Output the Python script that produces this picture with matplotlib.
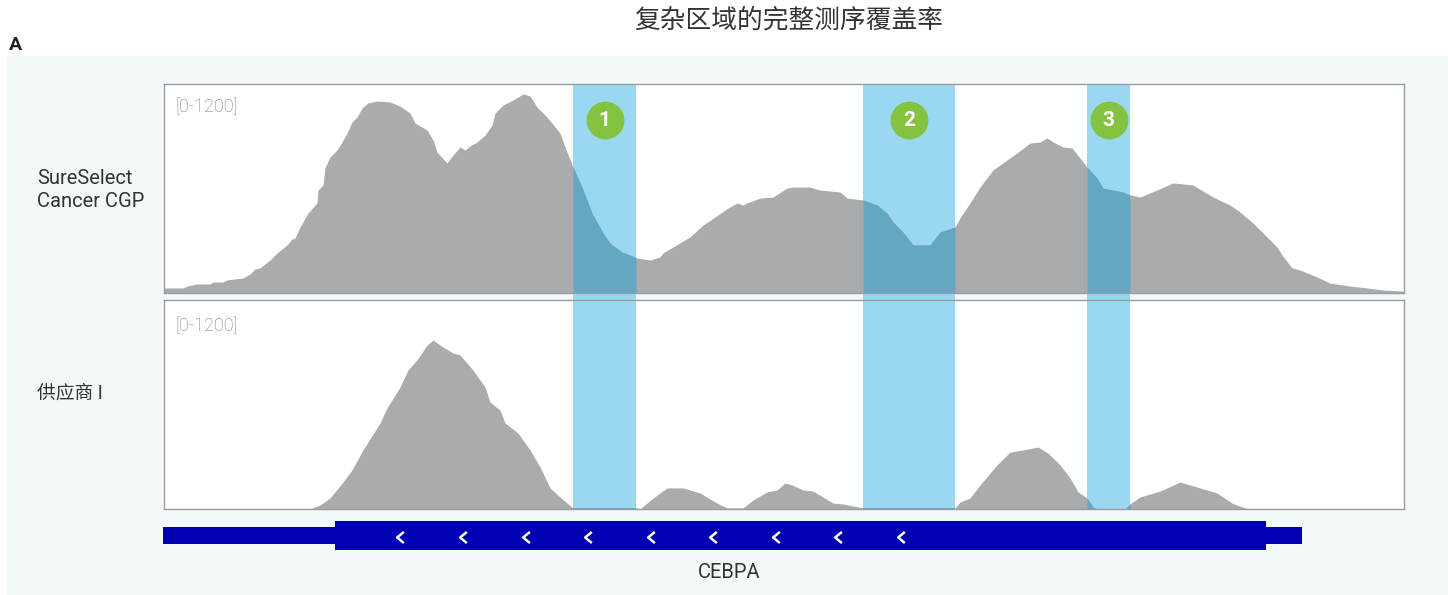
import numpy as np
import matplotlib
matplotlib.use("Agg")
import matplotlib.pyplot as plt
from matplotlib.patches import Rectangle
from matplotlib.path import Path
import matplotlib.transforms as mtransforms

plt.rcParams['font.family'] = ['Roboto', 'Noto Sans CJK SC', 'DejaVu Sans']

# ---- data -------------------------------------------------------------
title = "复杂区域的完整测序覆盖率"
panel_letter = "A"
track_names = ["SureSelect\nCancer CGP", "供应商 I"]
track_range = "[0-1200]"
y_max = 1200
gene_name = "CEBPA"

# window coordinates (bp offset across the displayed locus)
window = (0, 1240)

sureselect_pos = [0, 19, 23, 33, 46, 49, 59, 63, 79, 86, 91, 96, 106, 113, 123, 128,
                  131, 136, 144, 153, 154, 159, 161, 166, 173, 178, 183, 188, 193, 198,
                  204, 213, 226, 236, 246, 251, 263, 269, 273, 283, 289, 296, 301, 306,
                  313, 321, 328, 331, 339, 349, 359, 366, 373, 383, 396, 401, 409, 418,
                  428, 439, 446, 458, 466, 473, 486, 496, 499, 509, 526, 539, 551, 564,
                  573, 579, 583, 596, 609, 623, 629, 646, 656, 676, 683, 699, 713, 723,
                  729, 739, 749, 759, 766, 776, 791, 796, 806, 816, 829, 843, 853, 866,
                  876, 883, 891, 899, 908, 916, 923, 933, 939, 949, 959, 966, 976, 993,
                  1009, 1029, 1049, 1066, 1076, 1089, 1103, 1113, 1118, 1128, 1136, 1153,
                  1166, 1186, 1203, 1219, 1239, 1240]
sureselect_cov = [29, 29, 40, 52, 52, 63, 63, 75, 86, 109, 138, 144, 189, 230, 276, 310,
                  316, 379, 459, 517, 591, 620, 718, 781, 821, 867, 918, 982, 1010, 1062,
                  1091, 1102, 1097, 1073, 1033, 976, 936, 878, 809, 746, 792, 838, 821, 844,
                  867, 907, 964, 1033, 1079, 1108, 1143, 1131, 1068, 1010, 918, 838, 723, 608,
                  459, 344, 287, 235, 218, 201, 189, 207, 230, 264, 322, 390, 436, 488,
                  517, 505, 517, 545, 551, 603, 608, 608, 591, 580, 545, 534, 505, 459,
                  408, 350, 276, 276, 276, 350, 379, 431, 517, 608, 706, 764, 804, 861,
                  867, 890, 861, 838, 833, 775, 723, 660, 603, 591, 580, 563, 551, 591,
                  632, 620, 551, 505, 465, 402, 322, 264, 218, 144, 132, 92,
                  57, 40, 29, 17, 11, 11]

vendor_pos = [0, 146, 156, 166, 179, 188, 199, 216, 223, 236, 244, 253, 263, 269, 279,
              289, 296, 309, 321, 326, 336, 341, 354, 366, 376, 386, 396, 403, 409, 473,
              476, 489, 503, 519, 536, 553, 563, 579, 589, 603, 613, 621, 628, 639, 649,
              669, 679, 699, 791, 796, 806, 816, 833, 846, 859, 874, 884, 896, 906, 914,
              923, 929, 933, 961, 966, 976, 996, 1016, 1036, 1053, 1068, 1081, 1090, 1240]
vendor_cov = [0, 0, 23, 63, 155, 224, 339, 494, 580, 700, 798, 856, 941, 970, 930,
              896, 884, 798, 700, 614, 568, 494, 436, 339, 241, 121, 69, 34, 6, 6,
              0, 63, 121, 121, 92, 34, 6, 6, 52, 98, 109, 149, 138, 109, 103,
              34, 29, 6, 6, 40, 63, 138, 253, 327, 339, 356, 321, 253, 178, 98,
              63, 11, 0, 0, 29, 69, 103, 155, 121, 92, 34, 6, 0, 0]

# highlighted difficult regions (start, end) and their labels
region_starts = [409, 699, 923]
region_ends = [472, 791, 966]
region_labels = ["1", "2", "3"]

# gene model: UTR extent, coding extent and strand arrows
gene_utr = (-1, 1138)
gene_cds = (171, 1102)
strand_arrows = [236, 299, 362, 424, 487, 549, 612, 674, 737]

# ---- style ------------------------------------------------------------
W, H = 1448, 595
BG = "#f3f8fb"
GRAY = "#aaabad"
BAND = "#9ad8f2"
OVERLAP = "#64a7c2"
GREEN = "#84c341"
GENE = "#0000b2"
FRAME = "#9c9c9c"


def fig_box(x0, y0, x1, y1):
    """Pixel box (top-left origin) -> figure fraction [l, b, w, h]."""
    return [x0 / W, 1 - y1 / H, (x1 - x0) / W, (y1 - y0) / H]


fig = plt.figure(figsize=(W / 100, H / 100), dpi=100)
fig.patch.set_facecolor("white")

# light panel background and white track areas
bx = fig_box(7, 56, 1448, 595)
fig.add_artist(Rectangle((bx[0], bx[1]), bx[2], bx[3], transform=fig.transFigure,
                         facecolor=BG, edgecolor="none", zorder=0.1))
for (y0, y1) in [(84, 293), (300, 509)]:
    b = fig_box(164, y0, 1404, y1)
    fig.add_artist(Rectangle((b[0], b[1]), b[2], b[3], transform=fig.transFigure,
                             facecolor="white", edgecolor="none", zorder=0.2))

# highlight bands spanning both tracks
ax_bands = fig.add_axes(fig_box(164, 84, 1404, 510))
ax_bands.set_zorder(1)
ax_bands.patch.set_visible(False)
ax_bands.set_xlim(*window)
ax_bands.set_ylim(0, 1)
ax_bands.axis("off")
for s, e in zip(region_starts, region_ends):
    ax_bands.axvspan(s, e, color=BAND, lw=0)

tracks = [(sureselect_pos, sureselect_cov, (84, 293), 107),
          (vendor_pos, vendor_cov, (300, 509), 326)]
track_axes = []
for (pos, cov, (y0, y1), lab_y) in tracks:
    pos = np.asarray(pos, float)
    cov = np.asarray(cov, float)
    ax = fig.add_axes(fig_box(164, y0, 1404, y1))
    ax.set_zorder(2)
    ax.patch.set_visible(False)
    ax.set_xlim(*window)
    ax.set_ylim(0, y_max)
    ax.fill_between(pos, 0, cov, color=GRAY, lw=0)
    for s, e in zip(region_starts, region_ends):
        inside = (pos > s) & (pos < e)
        xs = np.concatenate([[s], pos[inside], [e]])
        ys = np.interp(xs, pos, cov)
        ax.fill_between(xs, 0, ys, color=OVERLAP, lw=0)
    ax.set_xticks([])
    ax.set_yticks([])
    for sp in ax.spines.values():
        sp.set_color(FRAME)
        sp.set_linewidth(1.0)
    ax.text(0.009, (y1 - lab_y) / (y1 - y0), track_range, transform=ax.transAxes,
            ha="left", va="center", fontsize=13, color="#7d7d7d", fontweight="light")
    track_axes.append(ax)

# numbered markers above each band
ax_top = track_axes[0]
trans = mtransforms.blended_transform_factory(ax_top.transData, ax_top.transAxes)
centers = [(s + e) / 2 for s, e in zip(region_starts, region_ends)]
marker_y = (293 - 120) / 209
ax_top.scatter(centers, [marker_y] * len(centers), s=740, color=GREEN,
               transform=trans, zorder=5, clip_on=False, linewidths=0)
for c, lab in zip(centers, region_labels):
    ax_top.text(c, marker_y, lab, transform=trans, ha="center", va="center",
                fontsize=15, fontweight="bold", color="white", zorder=6)

# gene track
ax_gene = fig.add_axes(fig_box(164, 515, 1404, 556))
ax_gene.set_zorder(2)
ax_gene.patch.set_visible(False)
ax_gene.set_xlim(*window)
ax_gene.set_ylim(556, 515)
ax_gene.axis("off")
ax_gene.add_patch(Rectangle((gene_utr[0], 527), gene_utr[1] - gene_utr[0], 17,
                            facecolor=GENE, edgecolor="none", clip_on=False))
ax_gene.add_patch(Rectangle((gene_cds[0], 521), gene_cds[1] - gene_cds[0], 29,
                            facecolor=GENE, edgecolor="none", clip_on=False))
chevron = Path([(0.6, 1.0), (-0.6, 0.0), (0.6, -1.0)],
               [Path.MOVETO, Path.LINETO, Path.LINETO])
ax_gene.plot(strand_arrows, [536.5] * len(strand_arrows), ls="none", marker=chevron,
             markersize=8, markerfacecolor="none", markeredgecolor="white",
             markeredgewidth=1.8, zorder=3)
ax_gene.text(565, 573, gene_name, ha="center", va="center", fontsize=14.5,
             color="#333333", clip_on=False)

# texts
fig.text(789 / W, 1 - 21 / H, title, ha="center", va="center", fontsize=18.5,
         color="#333333", family=["Noto Sans CJK SC", "DejaVu Sans"])
fig.text(9 / W, 1 - 45 / H, panel_letter, ha="left", va="center", fontsize=14,
         fontweight="bold", color="#222222")
fig.text(37 / W, 1 - 190 / H, track_names[0], ha="left", va="center", fontsize=14.5,
         color="#333333", linespacing=1.32)
fig.text(37 / W, 1 - 393 / H, track_names[1], ha="left", va="center", fontsize=13.5,
         color="#333333", family=["Noto Sans CJK SC", "Roboto"])

fig.savefig("out.png", dpi=100)
